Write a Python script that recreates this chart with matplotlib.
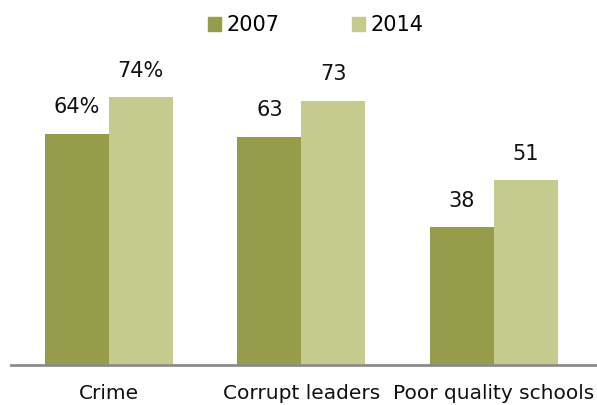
import numpy as np
import matplotlib
matplotlib.use("Agg")
import matplotlib.pyplot as plt
from matplotlib.patches import Patch

# values
categories = ["Crime", "Corrupt leaders", "Poor quality schools"]
series_names = ["2007", "2014"]
vals_2007 = [64, 63, 38]
vals_2014 = [74, 73, 51]
labels_2007 = ["64%", "63", "38"]
labels_2014 = ["74%", "73", "51"]

col_2007 = "#969d4a"
col_2014 = "#c5cb8d"

plt.rcParams['font.family'] = ['DejaVu Sans']

fig = plt.figure(figsize=(5.97, 4.05), dpi=100)
ax = fig.add_axes([11 / 597, 0.1, 1 - 11 / 597, 0.802])

x = np.arange(len(categories))
w = 0.332
b1 = ax.bar(x - w / 2, vals_2007, w, color=col_2007)
b2 = ax.bar(x + w / 2, vals_2014, w, color=col_2014)

for bars, labs in ((b1, labels_2007), (b2, labels_2014)):
    for r, lab in zip(bars, labs):
        ax.annotate(lab, (r.get_x() + r.get_width() / 2, r.get_height()),
                    xytext=(0, 12), textcoords="offset points",
                    ha="center", va="bottom", fontsize=15, color="#111111")

ax.set_xlim(-0.507, 2.535)
ax.set_ylim(0, 90)
ax.set_xticks(x)
ax.set_xticklabels(categories, fontsize=14.5, color="#111111")
ax.tick_params(axis="x", length=0, pad=14)
ax.set_yticks([])
for s in ("top", "right", "left"):
    ax.spines[s].set_visible(False)
ax.spines["bottom"].set_color("#8c8c8c")
ax.spines["bottom"].set_linewidth(2)

handles = [Patch(color=col_2007), Patch(color=col_2014)]
fig.legend(handles, series_names, loc="center", bbox_to_anchor=(0.529, 0.938),
           ncol=2, frameon=False, fontsize=15, handlelength=0.63,
           handleheight=0.63, handletextpad=0.25, columnspacing=3.5,
           borderpad=0)

fig.savefig("out.png", dpi=100)
